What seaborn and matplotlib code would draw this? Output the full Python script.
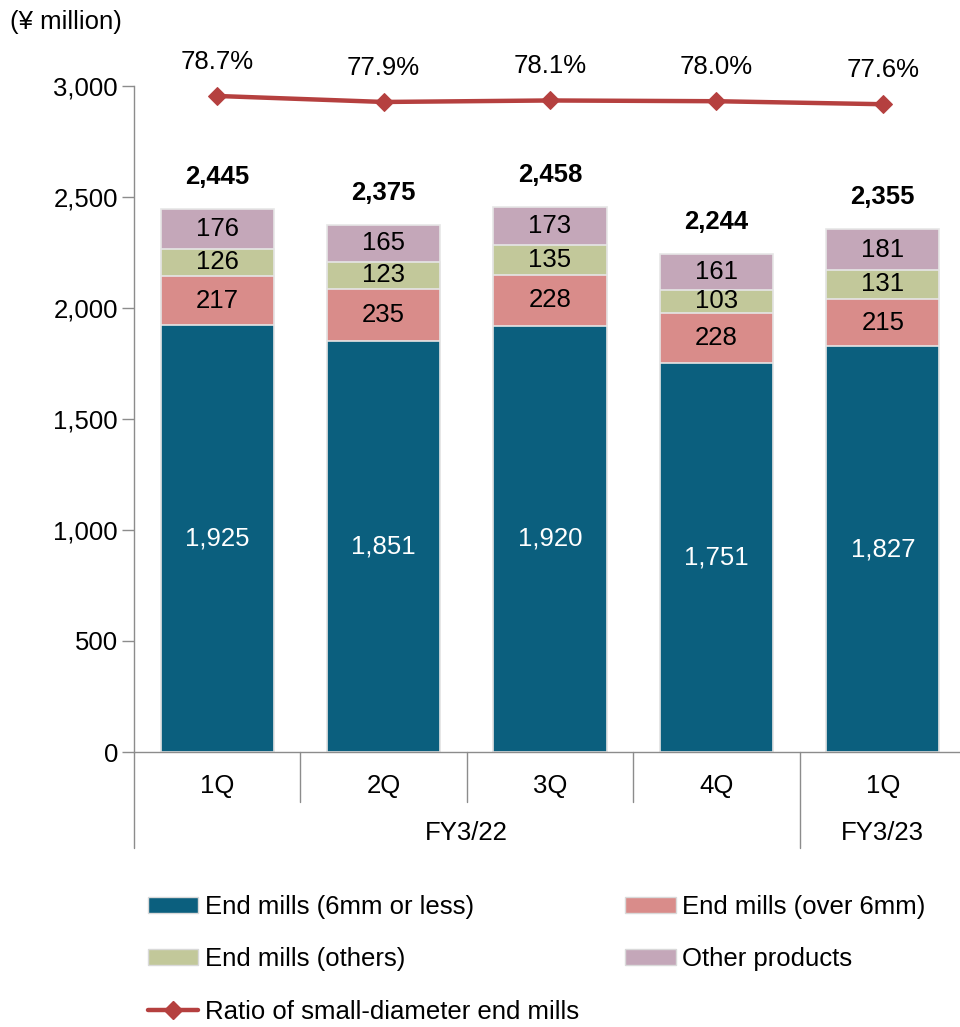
import numpy as np
import pandas as pd
import matplotlib
matplotlib.use("Agg")
import matplotlib.pyplot as plt
import seaborn as sns
from matplotlib.patches import Patch
from matplotlib.lines import Line2D

# ---------------- data ----------------
quarters = ["1Q", "2Q", "3Q", "4Q", "1Q "]
fiscal_groups = ["FY3/22", "FY3/23"]
group_sizes = [4, 1]
small_dia = [1925, 1851, 1920, 1751, 1827]
over_6mm = [217, 235, 228, 228, 215]
others = [126, 123, 135, 103, 131]
other_products = [176, 165, 173, 161, 181]
totals = [2445, 2375, 2458, 2244, 2355]
ratio = [78.7, 77.9, 78.1, 78.0, 77.6]
series_names = ["End mills (6mm or less)", "End mills (over 6mm)",
                "End mills (others)", "Other products"]
line_name = "Ratio of small-diameter end mills"

colors = ["#0b5f7e", "#d98c8a", "#c2c89a", "#c4a7b9"]
line_color = "#b5403f"
label_colors = ["white", "black", "black", "black"]

sns.set_theme(style="white")
plt.rcParams["font.family"] = ["Liberation Sans", "DejaVu Sans"]
plt.rcParams["text.color"] = "black"
plt.rcParams["xtick.color"] = "black"
plt.rcParams["ytick.color"] = "black"
FS = 18.5

fig = plt.figure(figsize=(9.6, 10.27), dpi=100)
ax = fig.add_axes([134 / 960, 1 - 752 / 1027, 832 / 960, 666 / 1027])

layers = [small_dia, over_6mm, others, other_products]
cum = np.cumsum(np.array(layers), axis=0)

# draw cumulative stacks from top layer downward
for i in range(len(layers) - 1, -1, -1):
    df = pd.DataFrame({"q": quarters, "v": cum[i]})
    sns.barplot(data=df, x="q", y="v", color=colors[i], width=0.68,
                edgecolor="#e6e6e6", linewidth=1.2, ax=ax, saturation=1,
                order=quarters)

# segment labels
for i, layer in enumerate(layers):
    base = cum[i] - np.array(layer)
    for j, v in enumerate(layer):
        ax.text(j, base[j] + v / 2, f"{v:,}", ha="center", va="center",
                fontsize=FS, color=label_colors[i])

# totals
for j, t in enumerate(totals):
    ax.annotate(f"{t:,}", (j, cum[-1][j]), xytext=(0, 23),
                textcoords="offset points", ha="center", va="center",
                fontsize=FS, fontweight="bold", color="black")

ax.set_ylim(0, 3000)
ax.set_xlim(-0.5, len(quarters) - 0.5)
ax.set_yticks(np.arange(0, 3001, 500))
ax.set_yticklabels([f"{v:,}" for v in np.arange(0, 3001, 500)], fontsize=FS)
ax.set_xlabel("")
ax.set_ylabel("")
ax.set_xticks(range(len(quarters)))
ax.set_xticklabels([q.strip() for q in quarters], fontsize=FS)
ax.tick_params(axis="x", length=0, pad=16)
ax.tick_params(axis="y", left=True, length=8.5, width=1, color="#8c8c8c",
               direction="out", pad=3)
for s in ["top", "right"]:
    ax.spines[s].set_visible(False)
for s in ["left", "bottom"]:
    ax.spines[s].set_color("#8c8c8c")
    ax.spines[s].set_linewidth(1)
ax.grid(False)

# category separators
trans = ax.get_xaxis_transform()
short_y = -(802 - 752) / 666
long_y = -(848 - 752) / 666
pos = -0.5
boundaries = []
for g in group_sizes:
    for k in range(1, g):
        ax.plot([pos + k, pos + k], [0, short_y], transform=trans,
                color="#8c8c8c", lw=1, clip_on=False)
    boundaries.append(pos)
    pos += g
for b in boundaries:
    ax.plot([b, b], [0, long_y], transform=trans, color="#8c8c8c", lw=1,
            clip_on=False)

# fiscal group labels
pos = -0.5
for name, g in zip(fiscal_groups, group_sizes):
    ax.text(pos + g / 2, -(833 - 752) / 666, name, transform=trans,
            ha="center", va="center", fontsize=FS)
    pos += g

# ratio line on secondary axis
ax2 = ax.twinx()
ldf = pd.DataFrame({"x": np.arange(len(ratio)), "r": ratio})
sns.lineplot(data=ldf, x="x", y="r", ax=ax2, color=line_color, lw=3.2,
             marker="D", markersize=9, markeredgecolor=line_color)
ax2.set_ylim(-8.8, 80.03)
ax2.set_xlim(-0.5, len(quarters) - 0.5)
ax2.axis("off")
for j, r in enumerate(ratio):
    ax2.annotate(f"{r:.1f}%", (j, r), xytext=(0, 24.5),
                 textcoords="offset points", ha="center", va="center",
                 fontsize=FS)

fig.text(10 / 960, 1 - 22 / 1027, "(¥ million)", ha="left", va="center",
         fontsize=FS)

# legend
handles = [Patch(facecolor=colors[0], edgecolor="#d9d9d9"),
           Patch(facecolor=colors[2], edgecolor="#d9d9d9"),
           Line2D([0], [0], color=line_color, lw=3.2, marker="D",
                  markersize=9),
           Patch(facecolor=colors[1], edgecolor="#d9d9d9"),
           Patch(facecolor=colors[3], edgecolor="#d9d9d9")]
labels = [series_names[0], series_names[2], line_name,
          series_names[1], series_names[3]]
fig.legend(handles, labels, ncol=2, loc="upper left",
           bbox_to_anchor=(148 / 960, 1 - 895 / 1027), frameon=False,
           fontsize=FS, handlelength=1.95, handleheight=0.6,
           handletextpad=0.27, labelspacing=1.1, columnspacing=1.8,
           borderaxespad=0, borderpad=0)

fig.savefig("out.png", dpi=100)
